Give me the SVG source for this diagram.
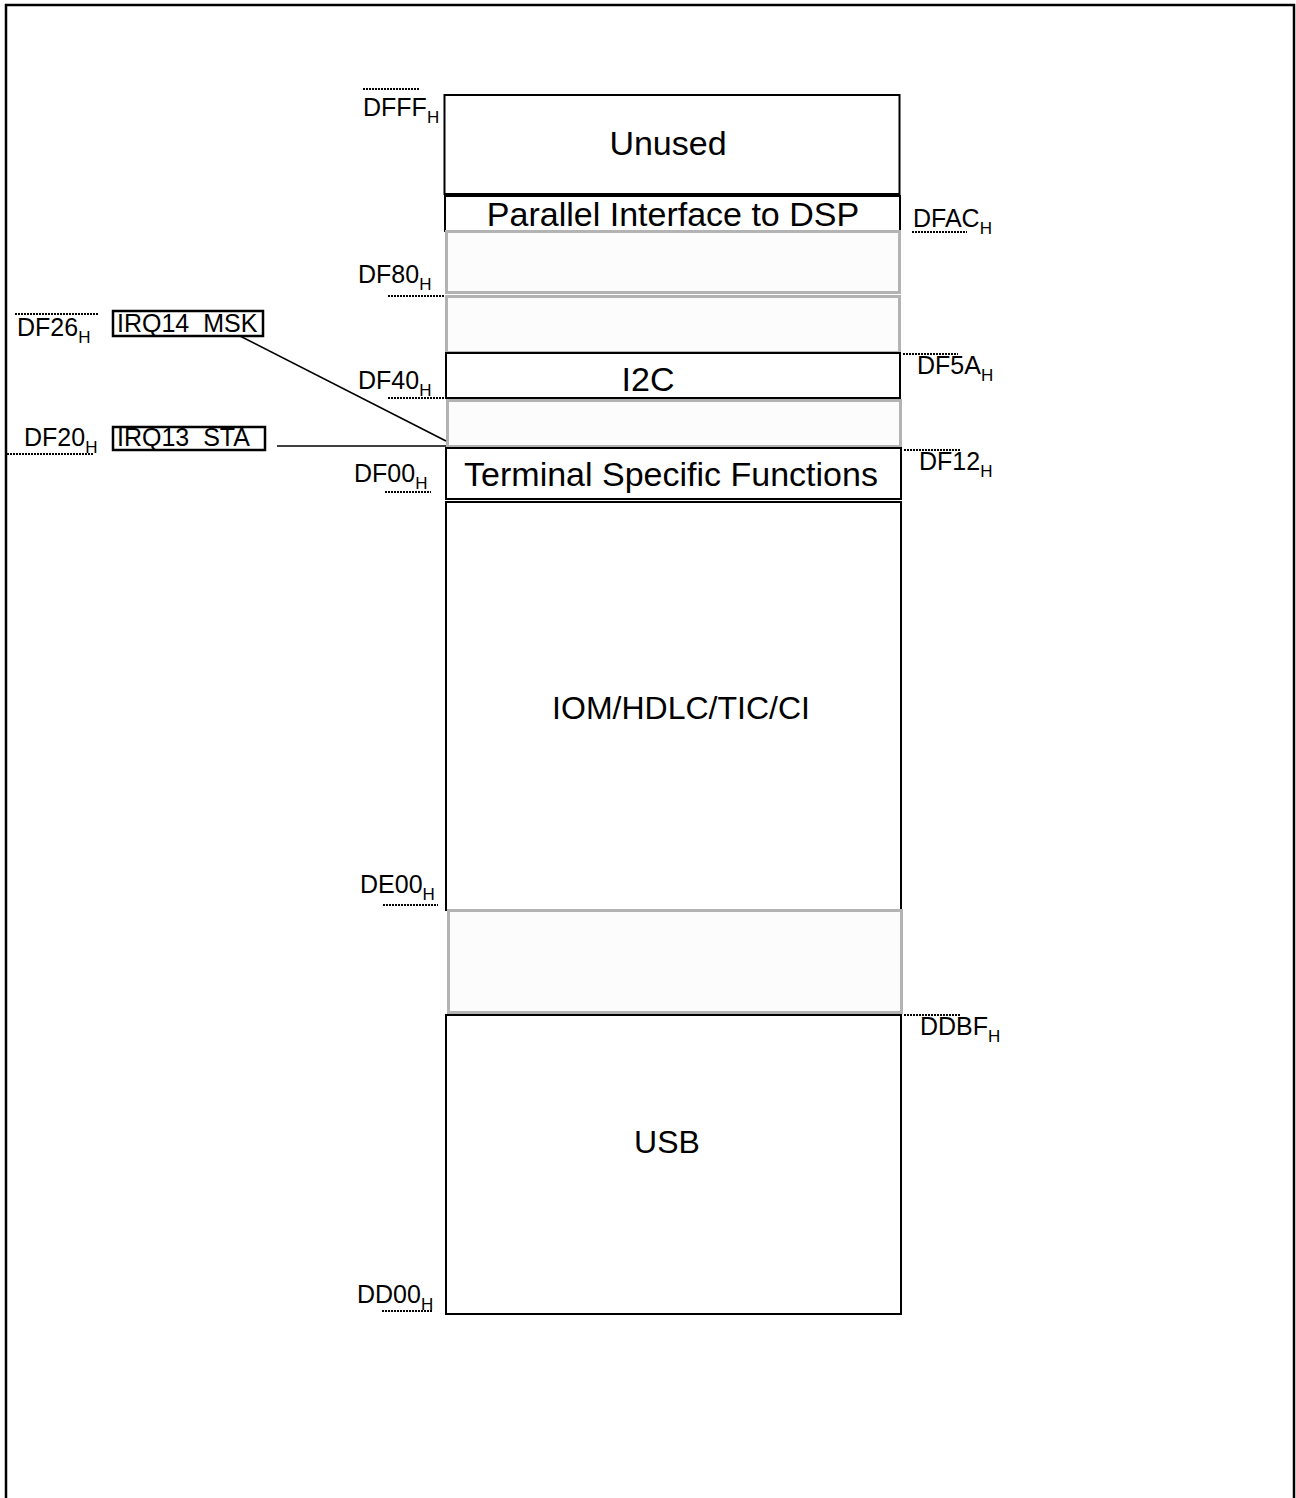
<svg xmlns="http://www.w3.org/2000/svg" width="1296" height="1498" viewBox="0 0 1296 1498">
<style>
text{font-family:"Liberation Sans",Arial,sans-serif;fill:#000}
.big{font-size:34px;text-anchor:middle}
.mid{font-size:32px;text-anchor:middle}
.lab{font-size:25px}
.sub{font-size:17px}
.irq{font-size:25px}
.blk{fill:#fff;stroke:#000;stroke-width:2}
.gry{fill:#fcfcfc;stroke:#b3b3b3;stroke-width:3}
.dot{stroke:#000;stroke-width:2;stroke-dasharray:2 1;fill:none}
.ln{stroke:#000;stroke-width:1.6;fill:none}
.box{fill:none;stroke:#000;stroke-width:2.5}
</style>
<rect width="1296" height="1498" fill="#fff"/>
<path d="M6 1498 V5 H1294 V1498" fill="none" stroke="#000" stroke-width="2.5"/>

<g id="unused"><rect class="blk" x="444.5" y="95" width="455" height="99"/><line x1="444" y1="195" x2="900" y2="195" stroke="#000" stroke-width="3"/><text class="big" x="668" y="155">Unused</text></g>
<g id="parallel"><rect class="blk" x="445" y="196" width="455" height="35"/><text class="big" x="673" y="226">Parallel Interface to DSP</text></g>
<g id="gray1"><rect class="gry" x="446.5" y="231.5" width="453" height="61"/></g>
<g id="gray2"><rect class="gry" x="446.5" y="296.5" width="453" height="56"/></g>
<g id="i2c"><rect class="blk" x="446" y="353" width="454" height="45"/><text class="big" x="648" y="391">I2C</text></g>
<g id="gray3"><rect class="gry" x="447.5" y="400.5" width="453" height="46"/></g>
<g id="tsf"><rect class="blk" x="446" y="448" width="455" height="51"/><text class="big" x="671" y="486">Terminal Specific Functions</text></g>
<g id="iom"><rect class="blk" x="446" y="502" width="455" height="408"/><text class="mid" x="681" y="719">IOM/HDLC/TIC/CI</text></g>
<g id="gray4"><rect class="gry" x="448.5" y="910.5" width="453" height="102"/></g>
<g id="usb"><rect class="blk" x="446" y="1015" width="455" height="299"/><text class="mid" x="667" y="1153">USB</text></g>

<g id="irq14"><text class="irq" x="117" y="332">IRQ14_MSK</text><rect class="box" x="113" y="311" width="150" height="25"/></g>
<g id="irq13"><text class="irq" x="117" y="446">IRQ13_STA</text><rect class="box" x="113" y="427" width="152" height="23"/></g>

<g id="addresses">
<line class="dot" x1="363" y1="89" x2="419" y2="89"/><text class="lab" x="363" y="116">DFFF<tspan class="sub" dy="7">H</tspan></text>
<line class="dot" x1="388" y1="296" x2="444" y2="296"/><text class="lab" x="358" y="283">DF80<tspan class="sub" dy="7">H</tspan></text>
<line class="dot" x1="388" y1="398" x2="444" y2="398"/><text class="lab" x="358" y="389">DF40<tspan class="sub" dy="7">H</tspan></text>
<line class="dot" x1="385" y1="492" x2="431" y2="492"/><text class="lab" x="354" y="482">DF00<tspan class="sub" dy="7">H</tspan></text>
<line class="dot" x1="383" y1="905" x2="438" y2="905"/><text class="lab" x="360" y="893">DE00<tspan class="sub" dy="7">H</tspan></text>
<line class="dot" x1="382" y1="1311" x2="432" y2="1311"/><text class="lab" x="357" y="1303">DD00<tspan class="sub" dy="7">H</tspan></text>
<line class="dot" x1="15" y1="314" x2="99" y2="314"/><text class="lab" x="17" y="336">DF26<tspan class="sub" dy="7">H</tspan></text>
<line class="dot" x1="7" y1="454" x2="93" y2="454"/><text class="lab" x="24" y="446">DF20<tspan class="sub" dy="7">H</tspan></text>
<line class="dot" x1="912" y1="232" x2="967" y2="232"/><text class="lab" x="913" y="227">DFAC<tspan class="sub" dy="7">H</tspan></text>
<line class="dot" x1="903" y1="354" x2="958" y2="354"/><text class="lab" x="917" y="374">DF5A<tspan class="sub" dy="7">H</tspan></text>
<line class="dot" x1="904" y1="450" x2="960" y2="450"/><text class="lab" x="919" y="470">DF12<tspan class="sub" dy="7">H</tspan></text>
<line class="dot" x1="904" y1="1015" x2="960" y2="1015"/><text class="lab" x="920" y="1035">DDBF<tspan class="sub" dy="7">H</tspan></text>
</g>

<g id="connectors">
<line class="ln" x1="240" y1="336" x2="446" y2="441"/>
<line class="ln" x1="277" y1="446" x2="446" y2="446"/>
</g>
</svg>
